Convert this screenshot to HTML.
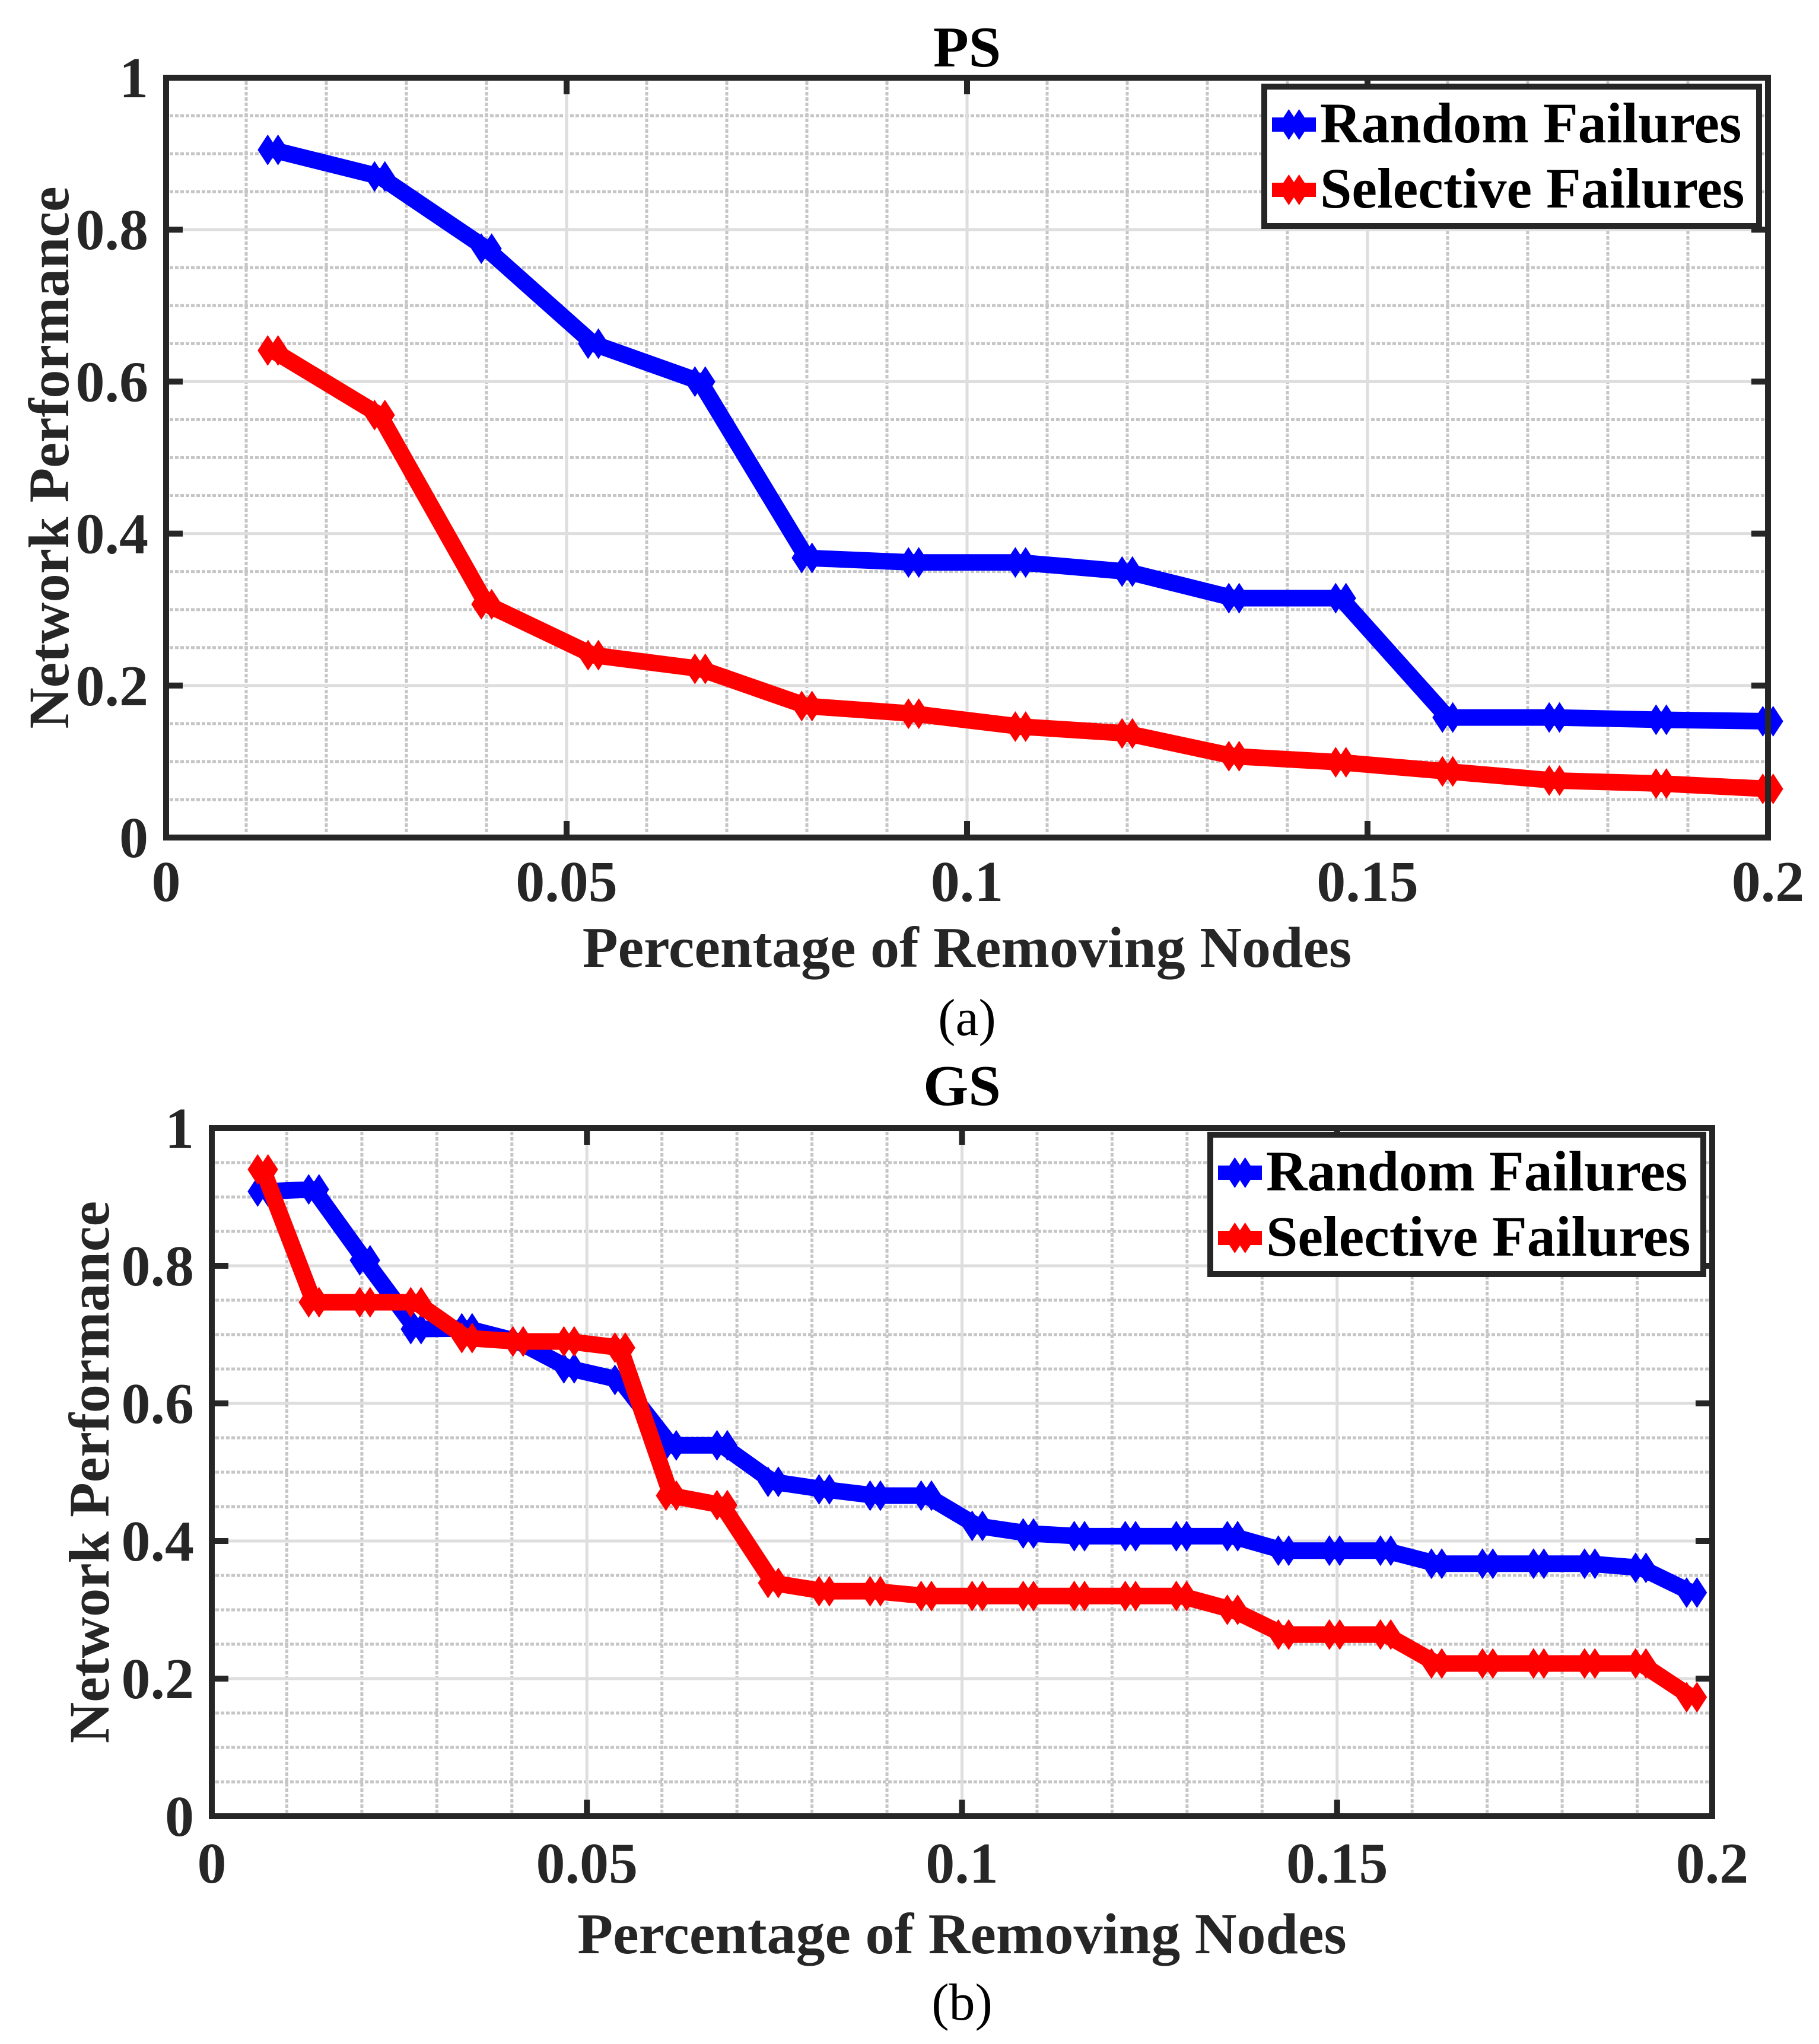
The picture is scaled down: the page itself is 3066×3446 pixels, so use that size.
<!DOCTYPE html>
<html><head><meta charset="utf-8"><style>
html,body{margin:0;padding:0;background:#fff;}
svg{display:block;}
text{font-family:"Liberation Serif","Times New Roman",serif;}
</style></head><body>
<svg id="fig" xmlns="http://www.w3.org/2000/svg" width="3066" height="3446" viewBox="0 0 3066 3446">
<rect width="3066" height="3446" fill="#fff"/>
</svg>
<script>
// ---- Data: PS (top) ----
const psX = [0.01333,0.02667,0.04,0.05333,0.06667,0.08,0.09333,0.10667,0.12,0.13333,0.14667,0.16,0.17333,0.18667,0.2];
const psRandom = [0.905,0.87,0.775,0.65,0.6,0.368,0.362,0.362,0.35,0.315,0.315,0.158,0.158,0.155,0.153];
const psSelective = [0.641,0.556,0.307,0.24,0.222,0.173,0.163,0.146,0.137,0.107,0.099,0.087,0.075,0.071,0.064];
// ---- Data: GS (bottom) ----
const gsX = [1,2,3,4,5,6,7,8,9,10,11,12,13,14,15,16,17,18,19,20,21,22,23,24,25,26,27,28,29].map(k=>k/147);
const gsRandom = [0.908,0.911,0.808,0.708,0.709,0.69,0.651,0.634,0.539,0.539,0.486,0.475,0.466,0.466,0.422,0.411,0.407,0.407,0.407,0.407,0.386,0.386,0.386,0.367,0.367,0.367,0.367,0.361,0.325];
const gsSelective = [0.94,0.747,0.747,0.747,0.695,0.69,0.69,0.681,0.466,0.452,0.339,0.327,0.327,0.32,0.32,0.32,0.32,0.32,0.32,0.30,0.264,0.264,0.264,0.222,0.222,0.222,0.222,0.222,0.173];
const xTicks = [0,0.05,0.1,0.15,0.2];
const xTickLabels = ["0","0.05","0.1","0.15","0.2"];
const yTicks = [0,0.2,0.4,0.6,0.8,1];
const yTickLabels = ["0","0.2","0.4","0.6","0.8","1"];
const seriesNames = ["Random Failures","Selective Failures"];

const NS="http://www.w3.org/2000/svg";
const svg=document.getElementById('fig');
function mk(tag,attrs,parent){const e=document.createElementNS(NS,tag);for(const k in attrs)e.setAttribute(k,attrs[k]);(parent||svg).appendChild(e);return e;}

function drawPanel(cfg){
  const g=mk('g',{});
  
  
  const L=cfg.L,R=cfg.R,T=cfg.T,B=cfg.B;
  const sx=v=>L+(v/0.2)*(R-L);
  const sy=v=>B-v*(B-T);
  // minor grid
  for(let i=1;i<20;i++){ if(i%5===0)continue; const x=sx(i*0.01);
    const l=mk('line',{x1:x,y1:T+6,x2:x,y2:B-6,stroke:'#c6c6c6','stroke-width':5,'stroke-dasharray':'6 3'},g);
      }
  for(let i=1;i<20;i++){ if(i%4===0)continue; const y=sy(i*0.05);
    const l=mk('line',{x1:L+6,y1:y,x2:R-6,y2:y,stroke:'#c6c6c6','stroke-width':5,'stroke-dasharray':'6 3'},g);
      }
  // major grid
  xTicks.forEach(v=>{ if(v===0||v===0.2)return; const x=sx(v);
    const l=mk('line',{x1:x,y1:T,x2:x,y2:B,stroke:'#dedede','stroke-width':5},g);
      });
  yTicks.forEach(v=>{ if(v===0||v===1)return; const y=sy(v);
    const l=mk('line',{x1:L,y1:y,x2:R,y2:y,stroke:'#dedede','stroke-width':5},g);
      });
  // series
  const series=[[cfg.x,cfg.r,'#0000ff','random-failures-line'],[cfg.x,cfg.s,'#ff0000','selective-failures-line']];
  series.forEach(([xs,ys,col,nm])=>{
    const pts=xs.map((x,i)=>sx(x)+','+sy(ys[i])).join(' ');
    const pl=mk('polyline',{points:pts,fill:'none',stroke:col,'stroke-width':28,'stroke-linejoin':'round'},g);
    
    
    xs.forEach((x,i)=>{ const m=marker(sx(x),sy(ys[i]),col,g);
      
       });
  });
  // axes box
  const box=mk('rect',{x:L,y:T,width:R-L,height:B-T,fill:'none',stroke:'#262626','stroke-width':10},g);
   
  // ticks & labels
  xTicks.forEach((v,i)=>{ const x=sx(v);
    mk('line',{x1:x,y1:B,x2:x,y2:B-28,stroke:'#262626','stroke-width':10},g);
    mk('line',{x1:x,y1:T,x2:x,y2:T+28,stroke:'#262626','stroke-width':10},g);
    const t=mk('text',{x:x,y:cfg.xtickY,'text-anchor':'middle','font-size':98,'font-weight':'bold',fill:'#262626'},g);
    t.textContent=xTickLabels[i];
      });
  yTicks.forEach((v,i)=>{ const y=sy(v);
    mk('line',{x1:L,y1:y,x2:L+28,y2:y,stroke:'#262626','stroke-width':10},g);
    mk('line',{x1:R,y1:y,x2:R-28,y2:y,stroke:'#262626','stroke-width':10},g);
    const t=mk('text',{x:L-30,y:y+33,'text-anchor':'end','font-size':98,'font-weight':'bold',fill:'#262626'},g);
    t.textContent=yTickLabels[i];
      });
  // title, labels
  const ti=mk('text',{x:(L+R)/2,y:cfg.titleY,'text-anchor':'middle','font-size':98,'font-weight':'bold',fill:'#000'},g);
  ti.textContent=cfg.title;  
  const xl=mk('text',{x:(L+R)/2,y:cfg.xlabelY,'text-anchor':'middle','font-size':98,'font-weight':'bold',fill:'#262626'},g);
  xl.textContent='Percentage of Removing Nodes';  
  const cy=(T+B)/2;
  const yl=mk('text',{x:cfg.ylabelX,y:cy,'text-anchor':'middle','font-size':96,'font-weight':'bold',fill:'#262626',transform:'rotate(-90 '+cfg.ylabelX+' '+cy+')'},g);
  yl.textContent='Network Performance';  
  const cap=mk('text',{x:(L+R)/2,y:cfg.capY,'text-anchor':'middle','font-size':88,fill:'#000'},g);
  cap.textContent=cfg.cap;  
  // legend
  const lg=mk('g',{},g);
   
  mk('rect',{x:cfg.lgX,y:cfg.lgY,width:cfg.lgW,height:235,fill:'#fff',stroke:'#262626','stroke-width':10},lg);
  ['#0000ff','#ff0000'].forEach((col,i)=>{
    const by=cfg.lgY+94+i*110, my=by-30;
    const e=mk('g',{},lg);
     
    mk('line',{x1:cfg.lgX+13,y1:my,x2:cfg.lgX+87,y2:my,stroke:col,'stroke-width':24},e);
    marker(cfg.lgX+50,my,col,e);
    const t=mk('text',{x:cfg.lgX+94,y:by,'font-size':96,'font-weight':'bold',fill:'#000'},e);
    t.textContent=seriesNames[i];
  });
}
function marker(cx,cy,col,parent){
  const g=mk('g',{},parent);
  [-8.7,8.7].forEach(d=>{
    mk('polygon',{points:`${cx+d-17},${cy} ${cx+d},${cy-26} ${cx+d+17},${cy} ${cx+d},${cy+26}`,fill:col},g);
  });
  return g;
}
drawPanel({name:'ps-panel',L:280,R:2980,T:131,B:1412,x:psX,r:psRandom,s:psSelective,
  xtickY:1519,titleY:112,xlabelY:1630,ylabelX:115,capY:1745,cap:'(a)',title:'PS',lgX:2131,lgY:146,lgW:834});
drawPanel({name:'gs-panel',L:357,R:2886,T:1902,B:3062,x:gsX,r:gsRandom,s:gsSelective,
  xtickY:3174,titleY:1863,xlabelY:3293,ylabelX:183,capY:3405,cap:'(b)',title:'GS',lgX:2040,lgY:1913,lgW:831});
</script>
</body></html>
